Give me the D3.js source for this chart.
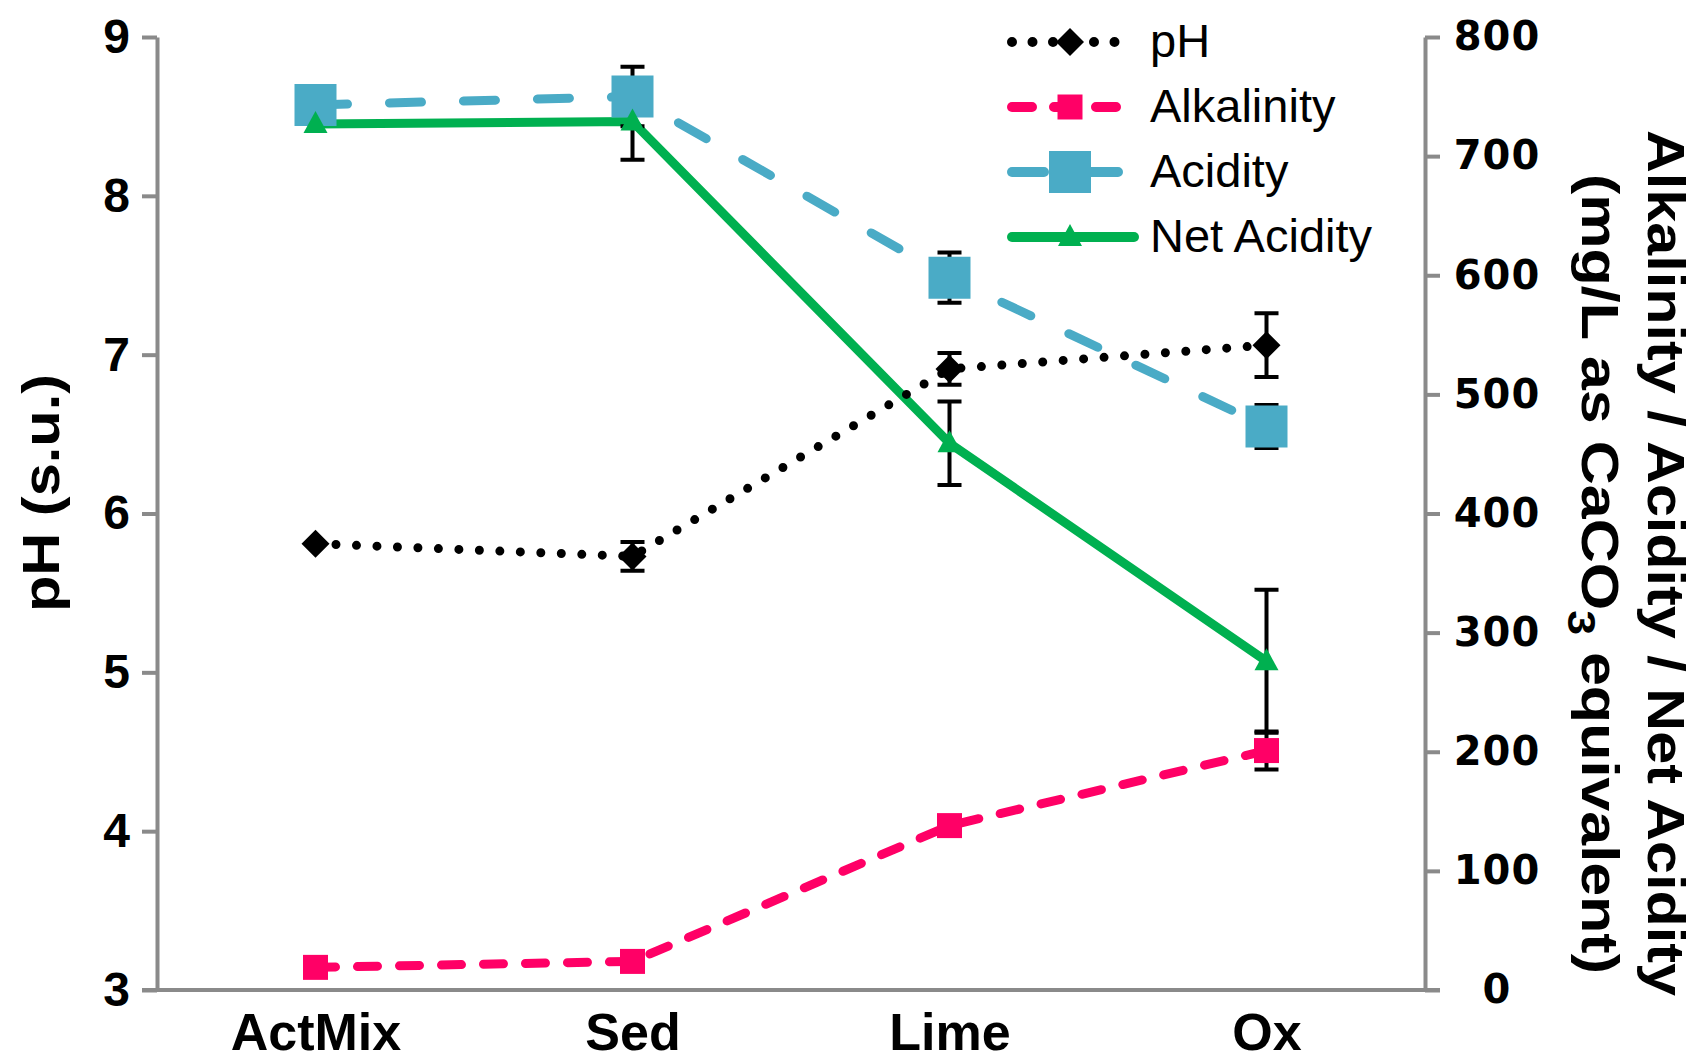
<!DOCTYPE html>
<html>
<head>
<meta charset="utf-8">
<script src="https://cdn.jsdelivr.net/npm/d3@7"></script>
<style>
  body { margin: 0; background: #fff; }
  svg { display: block; }
  text { font-family: "Liberation Sans", Arial, sans-serif; fill: #000; }
</style>
</head>
<body>
<svg id="chart" width="1698" height="1061"></svg>
<script>
// data
var categories = ["ActMix", "Sed", "Lime", "Ox"];
var phValues = [5.81, 5.73, 6.91, 7.06];
var phErrors = [0, 0.09, 0.10, 0.20];
var alkalinity = [19, 24, 138, 201];
var alkalinityErr = [0, 0, 0, 16];
var acidity = [743, 750, 598, 473];
var acidityErr = [0, 25, 21, 18];
var netAcidity = [727, 729, 459, 276];
var netAcidityErr = [0, 32, 35, 60];
var leftTicks = [3, 4, 5, 6, 7, 8, 9];
var rightTicks = [0, 100, 200, 300, 400, 500, 600, 700, 800];
var legendNames = ["pH", "Alkalinity", "Acidity", "Net Acidity"];

var svg = d3.select("#chart");
// plot box (window.top is read-only, so no plain "top" here)
var plotLeft = 157, plotRight = 1425, plotTop = 37, plotBottom = 990;
var axisColor = "#8a8a8a";

var x = d3.scalePoint().domain(categories).range([plotLeft, plotRight]).padding(0.5);
var yPh = d3.scaleLinear().domain([3, 9]).range([plotBottom, plotTop]);
var yMg = d3.scaleLinear().domain([0, 800]).range([plotBottom, plotTop]);

// axes
var gLeft = svg.append("g").attr("transform", "translate(" + plotLeft + ",0)")
  .call(d3.axisLeft(yPh).tickValues(leftTicks).tickSize(15).tickSizeOuter(0).tickPadding(12).tickFormat(d3.format("d")));
gLeft.selectAll("text").style("font-size", "48px").style("font-weight", "bold");

var gRight = svg.append("g").attr("transform", "translate(" + plotRight + ",0)")
  .call(d3.axisRight(yMg).tickValues(rightTicks).tickSize(15).tickSizeOuter(0).tickFormat(d3.format("d")));
gRight.selectAll("text")
  .attr("x", 72).attr("text-anchor", "middle")
  .style("font-family", "'DejaVu Sans', sans-serif")
  .style("font-size", "40px").style("font-weight", "bold").style("letter-spacing", "1px");

var gBottom = svg.append("g").attr("transform", "translate(0," + plotBottom + ")")
  .call(d3.axisBottom(x).tickSize(0).tickSizeOuter(0));
gBottom.select(".domain").attr("d", "M" + (plotLeft - 15) + ",0H" + (plotRight + 15));
gBottom.selectAll("text").attr("y", 60).attr("dy", 0)
  .style("font-size", "52px").style("font-weight", "bold");

svg.selectAll(".domain, .tick line")
  .attr("stroke", axisColor).attr("stroke-width", 4);
svg.selectAll(".tick text").attr("fill", "#000");

// axis titles
svg.append("text")
  .attr("transform", "translate(59,493) rotate(-90)")
  .attr("text-anchor", "middle")
  .attr("textLength", 238).attr("lengthAdjust", "spacingAndGlyphs")
  .style("font-size", "52px").style("font-weight", "bold")
  .text("pH (s.u.)");

svg.append("text")
  .attr("transform", "translate(1648,563) rotate(90)")
  .attr("text-anchor", "middle")
  .attr("textLength", 866).attr("lengthAdjust", "spacingAndGlyphs")
  .style("font-size", "52px").style("font-weight", "bold")
  .text("Alkalinity / Acidity / Net Acidity");

var t2 = svg.append("text")
  .attr("transform", "translate(1582,574) rotate(90)")
  .attr("text-anchor", "middle")
  .attr("textLength", 800).attr("lengthAdjust", "spacingAndGlyphs")
  .style("font-size", "52px").style("font-weight", "bold");
t2.append("tspan").text("(mg/L as CaCO");
t2.append("tspan").attr("dy", 14).style("font-size", "38px").text("3");
t2.append("tspan").attr("dy", -14).text(" equivalent)");

// marker shapes
function diamond(s) { return "M0," + (-s) + "L" + s + ",0L0," + s + "L" + (-s) + ",0Z"; }
function square(s) { return "M" + (-s / 2) + "," + (-s / 2) + "h" + s + "v" + s + "h" + (-s) + "Z"; }
function triangle() { return "M0,-13L12,9L-12,9Z"; }

var series = [
  { name: "Acidity", values: acidity, err: acidityErr, scale: yMg, color: "#4aabc6", dash: "32 42", marker: square(42) },
  { name: "Alkalinity", values: alkalinity, err: alkalinityErr, scale: yMg, color: "#ff0066", dash: "20 22", marker: square(25) },
  { name: "Net Acidity", values: netAcidity, err: netAcidityErr, scale: yMg, color: "#00b050", dash: null, marker: triangle() },
  { name: "pH", values: phValues, err: phErrors, scale: yPh, color: "#000", dash: "0 20.5", marker: diamond(14) }
];

function points(s) {
  return categories.map(function(c, i) { return { c: c, v: s.values[i], e: s.err[i] }; });
}

var gLines = svg.append("g"), gErr = svg.append("g"), gMarks = svg.append("g");

series.forEach(function(s) {
  var pts = points(s);
  var line = d3.line().x(function(d) { return x(d.c); }).y(function(d) { return s.scale(d.v); });
  gLines.append("path").datum(pts)
    .attr("d", line).attr("fill", "none")
    .attr("stroke", s.color).attr("stroke-width", 9)
    .attr("stroke-linecap", "round").attr("stroke-linejoin", "round")
    .attr("stroke-dasharray", s.dash);
  // error bars sit under the markers
  gErr.append("g").selectAll("path").data(pts.filter(function(d) { return d.e > 0; })).join("path")
    .attr("d", function(d) {
      var cx = x(d.c), y1 = s.scale(d.v + d.e), y2 = s.scale(d.v - d.e);
      return "M" + cx + "," + y1 + "V" + y2 + "M" + (cx - 12) + "," + y1 + "H" + (cx + 12) + "M" + (cx - 12) + "," + y2 + "H" + (cx + 12);
    })
    .attr("fill", "none").attr("stroke", "#000").attr("stroke-width", 4);
  gMarks.append("g").selectAll("path").data(pts).join("path")
    .attr("transform", function(d) { return "translate(" + x(d.c) + "," + s.scale(d.v) + ")"; })
    .attr("d", s.marker).attr("fill", s.color);
});

// legend
var legend = svg.append("g");
legendNames.forEach(function(name, i) {
  var s = series.filter(function(d) { return d.name === name; })[0];
  var cy = 42 + i * 65;
  legend.append("path")
    .attr("d", "M1012," + cy + "H" + (name === "Net Acidity" ? 1134 : 1124))
    .attr("stroke", s.color).attr("stroke-width", 10).attr("fill", "none")
    .attr("stroke-linecap", "round").attr("stroke-dasharray", s.dash);
  legend.append("path")
    .attr("transform", "translate(1070," + cy + ")")
    .attr("d", s.marker).attr("fill", s.color);
  legend.append("text")
    .attr("x", 1150).attr("y", cy + 15)
    .style("font-size", "47px")
    .text(name);
});
</script>
</body>
</html>
